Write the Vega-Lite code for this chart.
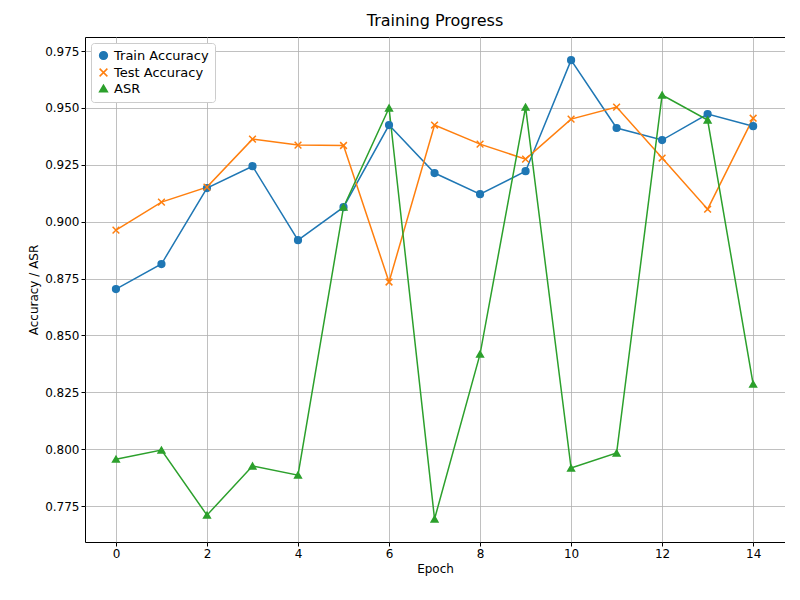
{
  "$schema": "https://vega.github.io/schema/vega-lite/v6.json",
  "width": 700,
  "height": 505,
  "padding": {"left": 27, "top": 13, "right": 0, "bottom": 5},
  "title": {"text": "Training Progress", "fontSize": 16, "fontWeight": "normal", "font": "DejaVu Sans", "color": "black", "offset": 8},
  "data": {"values": [
    {"epoch": 0, "series": "Train Accuracy", "value": 0.8704},
    {"epoch": 1, "series": "Train Accuracy", "value": 0.8814},
    {"epoch": 2, "series": "Train Accuracy", "value": 0.9148},
    {"epoch": 3, "series": "Train Accuracy", "value": 0.9244},
    {"epoch": 4, "series": "Train Accuracy", "value": 0.8919},
    {"epoch": 5, "series": "Train Accuracy", "value": 0.9064},
    {"epoch": 6, "series": "Train Accuracy", "value": 0.9425},
    {"epoch": 7, "series": "Train Accuracy", "value": 0.9214},
    {"epoch": 8, "series": "Train Accuracy", "value": 0.9121},
    {"epoch": 9, "series": "Train Accuracy", "value": 0.9222},
    {"epoch": 10, "series": "Train Accuracy", "value": 0.971},
    {"epoch": 11, "series": "Train Accuracy", "value": 0.9412},
    {"epoch": 12, "series": "Train Accuracy", "value": 0.9359},
    {"epoch": 13, "series": "Train Accuracy", "value": 0.9473},
    {"epoch": 14, "series": "Train Accuracy", "value": 0.942},
    {"epoch": 0, "series": "Test Accuracy", "value": 0.8963},
    {"epoch": 1, "series": "Test Accuracy", "value": 0.9086},
    {"epoch": 2, "series": "Test Accuracy", "value": 0.9152},
    {"epoch": 3, "series": "Test Accuracy", "value": 0.9363},
    {"epoch": 4, "series": "Test Accuracy", "value": 0.9337},
    {"epoch": 5, "series": "Test Accuracy", "value": 0.9335},
    {"epoch": 6, "series": "Test Accuracy", "value": 0.8735},
    {"epoch": 7, "series": "Test Accuracy", "value": 0.9425},
    {"epoch": 8, "series": "Test Accuracy", "value": 0.9341},
    {"epoch": 9, "series": "Test Accuracy", "value": 0.9275},
    {"epoch": 10, "series": "Test Accuracy", "value": 0.9451},
    {"epoch": 11, "series": "Test Accuracy", "value": 0.9504},
    {"epoch": 12, "series": "Test Accuracy", "value": 0.928},
    {"epoch": 13, "series": "Test Accuracy", "value": 0.9055},
    {"epoch": 14, "series": "Test Accuracy", "value": 0.9455},
    {"epoch": 0, "series": "ASR", "value": 0.7956},
    {"epoch": 1, "series": "ASR", "value": 0.7996},
    {"epoch": 2, "series": "ASR", "value": 0.771},
    {"epoch": 3, "series": "ASR", "value": 0.7926},
    {"epoch": 4, "series": "ASR", "value": 0.7886},
    {"epoch": 5, "series": "ASR", "value": 0.9064},
    {"epoch": 6, "series": "ASR", "value": 0.950},
    {"epoch": 7, "series": "ASR", "value": 0.7693},
    {"epoch": 8, "series": "ASR", "value": 0.8418},
    {"epoch": 9, "series": "ASR", "value": 0.9504},
    {"epoch": 10, "series": "ASR", "value": 0.7917},
    {"epoch": 11, "series": "ASR", "value": 0.7983},
    {"epoch": 12, "series": "ASR", "value": 0.9557},
    {"epoch": 13, "series": "ASR", "value": 0.9447},
    {"epoch": 14, "series": "ASR", "value": 0.8286}
  ]},
  "encoding": {
    "x": {"field": "epoch", "type": "quantitative", "title": "Epoch",
      "scale": {"domain": [-0.68, 14.7], "nice": false, "zero": false},
      "axis": {"values": [0, 2, 4, 6, 8, 10, 12, 14], "format": "d"}},
    "y": {"field": "value", "type": "quantitative", "title": "Accuracy / ASR",
      "scale": {"domain": [0.7592, 0.9812], "nice": false, "zero": false},
      "axis": {"values": [0.775, 0.8, 0.825, 0.85, 0.875, 0.9, 0.925, 0.95, 0.975], "format": ".3f"}},
    "color": {"field": "series", "type": "nominal",
      "scale": {"domain": ["Train Accuracy", "Test Accuracy", "ASR"], "range": ["#1f77b4", "#ff7f0e", "#2ca02c"]},
      "legend": {"title": null, "orient": "top-left", "offset": 6, "fillColor": "white", "strokeColor": "#cccccc", "cornerRadius": 3, "padding": 6, "labelFontSize": 13, "labelFont": "DejaVu Sans", "symbolStrokeWidth": 1.5, "symbolSize": 60}}
  },
  "layer": [
    {"mark": {"type": "line", "strokeWidth": 1.5}},
    {"mark": {"type": "point", "filled": true, "size": 45, "strokeWidth": 1.5, "opacity": 1},
      "encoding": {
        "shape": {"field": "series", "type": "nominal",
          "scale": {"domain": ["Train Accuracy", "Test Accuracy", "ASR"], "range": ["circle", "M-1,-1L1,1M1,-1L-1,1", "triangle-up"]}},
        "stroke": {"field": "series", "type": "nominal",
          "scale": {"domain": ["Train Accuracy", "Test Accuracy", "ASR"], "range": ["#1f77b4", "#ff7f0e", "#2ca02c"]}, "legend": null}
      }}
  ],
  "config": {
    "font": "DejaVu Sans",
    "view": {"stroke": "black", "strokeWidth": 1},
    "axis": {"grid": true, "gridColor": "#b0b0b0", "gridWidth": 0.8, "domain": false, "tickColor": "black", "tickSize": 4, "labelFontSize": 12, "labelColor": "black", "titleFontSize": 12, "titleFontWeight": "normal", "titleColor": "black", "labelFont": "DejaVu Sans", "titleFont": "DejaVu Sans"}
  }
}
